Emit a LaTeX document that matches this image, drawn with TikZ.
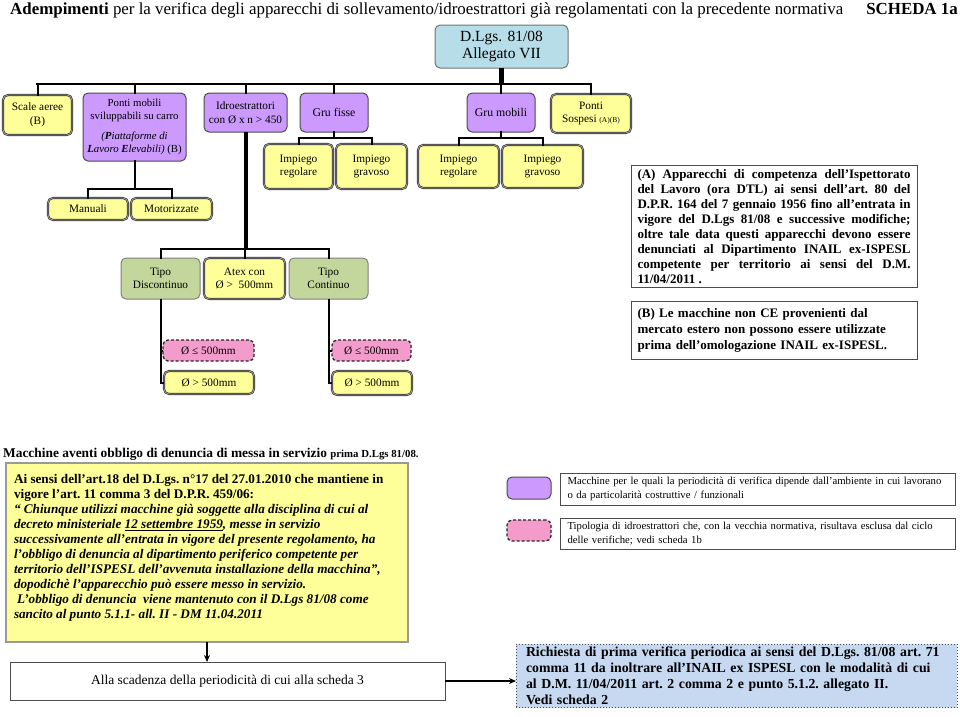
\documentclass[tikz,border=0pt]{standalone}
\usepackage{fontspec}
\setmainfont{Liberation Serif}
\usetikzlibrary{arrows.meta}
\definecolor{purp}{HTML}{CC99FF}
\definecolor{yel}{HTML}{FFFF99}
\definecolor{grn}{HTML}{C3D69B}
\definecolor{cyn}{HTML}{B7DEE8}
\definecolor{pnk}{HTML}{F39BCB}
\definecolor{blu}{HTML}{C6D9F1}
\newcommand\fsz[2]{\fontsize{#1}{#2}\selectfont}
\newcommand\jline[1]{\makebox[273pt][s]{#1}}
\tikzset{
  wh/.style 2 args={minimum width=#1pt, minimum height=#2pt},
  base/.style={anchor=north west, inner sep=0pt, outer sep=0pt, align=center, rounded corners=5pt, font=\fsz{11.3}{13.5}},
  purpbox/.style={base, fill=purp, draw=black!70, line width=1pt},
  yelbox/.style={base, fill=yel, draw=black!80, line width=0.6pt, double=black!40, double distance=0.9pt},
  grnbox/.style={base, fill=grn, draw=black!50, line width=1pt},
  cynbox/.style={base, fill=cyn, draw=black!55, line width=1pt},
  pnkbox/.style={base, fill=pnk, draw=black!85, line width=1.3pt, dash pattern=on 3pt off 2pt},
  plainbox/.style={anchor=north west, inner sep=0pt, outer sep=0pt, draw=black!70, line width=1pt, fill=white},
  conn/.style={draw=black, line width=2pt, line cap=rect},
  arr/.style={draw=black, -{Stealth[length=7pt,width=6pt]}},
}
\begin{document}
\begin{tikzpicture}[x=1pt,y=-1pt]
\useasboundingbox (0,0) rectangle (960,716);
\fill[white] (0,0) rectangle (960,716);

% title
\node[anchor=base west, inner sep=0pt, font=\fsz{16.9}{18}] (title) at (10,14) {\textbf{Adempimenti} per la verifica degli apparecchi di sollevamento/idroestrattori già regolamentati con la precedente normativa};
\node[anchor=base east, inner sep=0pt, font=\fsz{16.9}{18}\bfseries] (scheda) at (958,14) {SCHEDA 1a};

% top
\node[cynbox, wh={133}{43}, font=\fsz{15.5}{17}] (dlgs) at (435,25) {D.Lgs. 81/08\\Allegato VII};

\node[yelbox, wh={69}{40}] (scale) at (3,95) {Scale aeree\\(B)};
\node[purpbox, wh={103}{68}, font=\fsz{10.8}{13}] (pmob) at (83,93) {Ponti mobili\\sviluppabili su carro\\[7pt]\textit{(\textbf{P}iattaforme di}\\\textit{\textbf{L}avoro \textbf{E}levabili)}\ (B)};
\node[purpbox, wh={83}{39}] (idro) at (204,93) {Idroestrattori\\con Ø x n > 450};
\node[purpbox, wh={68}{39}, font=\fsz{11.8}{13.5}] (grufisse) at (300,93) {Gru fisse};
\node[purpbox, wh={68}{39}, font=\fsz{11.8}{13.5}] (grumob) at (467,93) {Gru mobili};
\node[yelbox, wh={80}{39}] (psosp) at (551,94) {Ponti\\Sospesi {\fsz{7.5}{9}(A)(B)}};

\node[yelbox, wh={69}{45}] (reg1) at (264,144) {Impiego\\regolare};
\node[yelbox, wh={71}{45}] (grav1) at (336,144) {Impiego\\gravoso};
\node[yelbox, wh={81}{43}] (reg2) at (418,145) {Impiego\\regolare};
\node[yelbox, wh={81}{43}] (grav2) at (502,145) {Impiego\\gravoso};

\node[yelbox, wh={80}{22}] (manuali) at (48,198) {Manuali};
\node[yelbox, wh={81}{22}] (motor) at (131,198) {Motorizzate};

\node[grnbox, wh={79}{41}] (tdisc) at (121,258) {Tipo\\Discontinuo};
\node[yelbox, wh={81}{41}] (atex) at (204,258) {Atex con\\Ø >\ \ 500mm};
\node[grnbox, wh={79}{41}] (tcont) at (289,258) {Tipo\\Continuo};

\node[pnkbox, wh={91}{21}] (le1) at (163,340) {Ø ≤ 500mm};
\node[yelbox, wh={90}{23}] (gt1) at (164,371) {Ø > 500mm};
\node[pnkbox, wh={79}{21}] (le2) at (332,340) {Ø ≤ 500mm};
\node[yelbox, wh={80}{24}] (gt2) at (332,371) {Ø > 500mm};

% connectors
\coordinate (bar) at (0,84);
\draw[conn, line width=4.5pt, line cap=butt] (dlgs.south) -- (dlgs.south |- bar);
\draw[conn, line width=2.5pt] (scale.north |- bar) -- (psosp.north |- bar);
\foreach \n in {scale,pmob,idro,grufisse,grumob,psosp}
  \draw[conn] (\n.north) -- (\n.north |- bar);

\draw[conn] (grufisse.south) -- ++(0,6);
\draw[conn] (reg1.north) -- ++(0,-6) -| (grav1.north);
\draw[conn] (grumob.south) -- ++(0,6);
\draw[conn] (reg2.north) -- ++(0,-7) -| (grav2.north);

\draw[conn] (pmob.south) -- ++(0,28);
\draw[conn] (manuali.north) -- ++(0,-9) -| (motor.north);

\draw[conn, line width=4pt, line cap=butt] (idro.south) -- ++(0,117);
\draw[conn] (tdisc.north) -- ++(0,-9) -| (tcont.north);
\draw[conn] (atex.north) -- ++(0,-9);

\draw[conn, line cap=butt] (tdisc.south) |- (gt1.west);
\draw[conn, line cap=butt] (le1.west) -- (le1.west -| tdisc.south);
\draw[conn, line cap=butt] (tcont.south) |- (gt2.west);
\draw[conn, line cap=butt] (le2.west) -- (le2.west -| tcont.south);

% notes
\node[plainbox, text width=273pt, inner xsep=6.5pt, inner ysep=4pt, align=left, font=\fsz{13}{15}\bfseries] (noteA) at (631,165) {\spaceskip=0pt\xspaceskip=0pt\frenchspacing
\jline{(A) Apparecchi di competenza dell’Ispettorato}\\
\jline{del Lavoro (ora DTL) ai sensi dell’art. 80 del}\\
\jline{D.P.R. 164 del 7 gennaio 1956 fino all’entrata in}\\
\jline{vigore del D.Lgs 81/08 e successive modifiche;}\\
\jline{oltre tale data questi apparecchi devono essere}\\
\jline{denunciati al Dipartimento INAIL ex-ISPESL}\\
\jline{competente per territorio ai sensi del D.M.}\\
11/04/2011 .};

\node[plainbox, wh={286}{58}, text width=273pt, inner xsep=6.5pt, align=left, font=\fsz{13}{16}\bfseries] (noteB) at (631,301) {\frenchspacing(B) Le macchine non CE provenienti dal\\mercato estero non possono essere utilizzate\\prima dell’omologazione INAIL ex-ISPESL.};

% lower part
\node[anchor=base west, inner sep=0pt, font=\fsz{13.4}{15}\bfseries] (macch) at (3,457) {Macchine aventi obbligo di denuncia di messa in servizio {\fsz{10.8}{12}prima D.Lgs 81/08.}};

\node[anchor=north west, fill=yel, draw=black!75, line width=0.8pt, double=black!40, double distance=1.2pt, inner xsep=8pt, inner ysep=0pt, outer sep=0pt, align=left] (big) at (6,463) {%
\begin{minipage}[b][179pt][t]{386pt}\vspace{11pt}\fsz{13.2}{15}\bfseries\frenchspacing
Ai sensi dell’art.18 del D.Lgs. n°17 del 27.01.2010 che mantiene in\\
vigore l’art. 11 comma 3 del D.P.R. 459/06:\\
\itshape “ Chiunque utilizzi macchine già soggette alla disciplina di cui al\\
decreto ministeriale \underline{12 settembre 1959}, messe in servizio\\
successivamente all'entrata in vigore del presente regolamento, ha\\
l'obbligo di denuncia al dipartimento periferico competente per\\
territorio dell'ISPESL dell'avvenuta installazione della macchina”,\\
dopodichè l’apparecchio può essere messo in servizio.\\
\hspace*{3pt}L’obbligo di denuncia\ \ viene mantenuto con il D.Lgs 81/08 come\\
sancito al punto 5.1.1- all. II - DM 11.04.2011
\end{minipage}};

\node[plainbox, wh={435}{38}, font=\fsz{13.5}{15}] (alla) at (10,662) {Alla scadenza della periodicità di cui alla scheda 3};

\node[anchor=north west, fill=blu, draw=black!70, dotted, line width=1pt, inner xsep=10pt, inner ysep=3pt, outer sep=0pt, text width=421pt, align=left, font=\fsz{13.8}{16}\bfseries] (blue) at (516,644) {\frenchspacing Richiesta di prima verifica periodica ai sensi del D.Lgs. 81/08 art. 71\\comma 11 da inoltrare all’INAIL ex ISPESL con le modalità di cui\\al D.M. 11/04/2011 art. 2 comma 2 e punto 5.1.2. allegato II.\\Vedi scheda 2};

\draw[arr, line width=1.5pt] (big.south) -- (big.south |- alla.north);
\draw[arr, line width=2.5pt] (alla.east) -- (alla.east -| blue.west);

% legend
\node[base, fill=purp, draw=black!70, line width=1pt, wh={44}{22}] (sw1) at (507,477) {};
\node[plainbox, wh={395}{32}, text width=387pt, inner xsep=4pt, align=left, font=\fsz{10.7}{13.5}] (lg1) at (560,473) {\frenchspacing\ Macchine per le quali la periodicità di verifica dipende dall’ambiente in cui lavorano\\\ o da particolarità costruttive / funzionali};
\node[pnkbox, wh={44}{21}] (sw2) at (507,520) {};
\node[plainbox, wh={395}{31}, text width=387pt, inner xsep=4pt, align=left, font=\fsz{10.7}{13.5}] (lg2) at (560,518) {\frenchspacing\ Tipologia di idroestrattori che, con la vecchia normativa, risultava esclusa dal ciclo\\\ delle verifiche; vedi scheda 1b};
\end{tikzpicture}
\end{document}
